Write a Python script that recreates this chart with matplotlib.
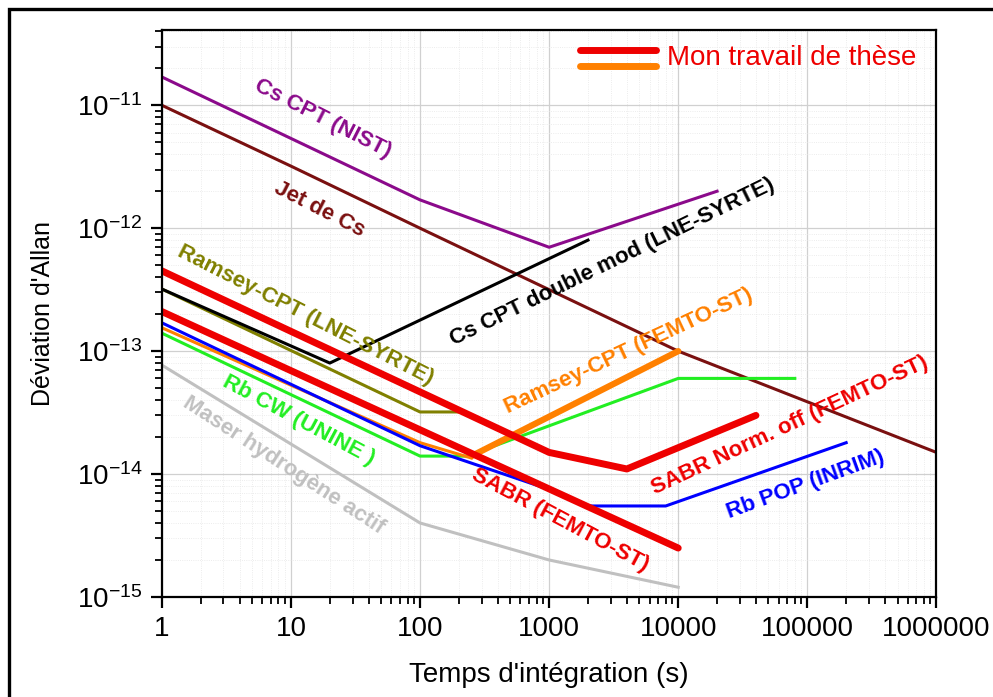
import matplotlib
matplotlib.use("Agg")
import matplotlib.pyplot as plt
from matplotlib.patches import Rectangle

plt.rcParams['font.family'] = ['Liberation Sans', 'DejaVu Sans']
plt.rcParams['mathtext.fontset'] = 'custom'
plt.rcParams['mathtext.rm'] = 'Liberation Sans'
plt.rcParams['mathtext.default'] = 'regular'

# courbes (temps d'intégration en s, déviation d'Allan)
cs_nist_x = [1, 100, 1000, 20000]
cs_nist_y = [1.7e-11, 1.7e-12, 7e-13, 2e-12]

jet_cs_x = [1, 10, 100, 10000, 1000000]
jet_cs_y = [1e-11, 3.2e-12, 1e-12, 1e-13, 1.5e-14]

ramsey_lne_x = [1, 100, 200]
ramsey_lne_y = [3.2e-13, 3.2e-14, 3.2e-14]

cs_double_x = [1, 20, 2000]
cs_double_y = [3.2e-13, 8e-14, 8e-13]

sabr_off_x = [1, 1000, 4000, 40000]
sabr_off_y = [4.5e-13, 1.5e-14, 1.1e-14, 3e-14]

sabr_x = [1, 10000]
sabr_y = [2.1e-13, 2.5e-15]

rb_pop_x = [1, 100, 1000, 2000, 8000, 200000]
rb_pop_y = [1.7e-13, 1.7e-14, 7.5e-15, 5.5e-15, 5.5e-15, 1.8e-14]

ramsey_femto_x = [1, 100, 250]
ramsey_femto_y = [1.55e-13, 1.8e-14, 1.35e-14]
ramsey_femto2_x = [250, 10000]
ramsey_femto2_y = [1.4e-14, 1e-13]

rb_cw_x = [1, 100, 230, 10000, 80000]
rb_cw_y = [1.4e-13, 1.4e-14, 1.4e-14, 6e-14, 6e-14]

maser_x = [1, 100, 1000, 10000]
maser_y = [7.7e-14, 4e-15, 2e-15, 1.2e-15]

xticks = [1, 10, 100, 1000, 10000, 100000, 1000000]
xticklabels = ["1", "10", "100", "1000", "10000", "100000", "1000000"]

fig = plt.figure(figsize=(9.93, 6.97), dpi=100)
ax = fig.add_axes([0.163, 0.1435, 0.78, 0.8135])
ax.set_xscale('log')
ax.set_yscale('log')

ax.plot(maser_x, maser_y, color='#c0c0c0', lw=2.2)
ax.plot(cs_nist_x, cs_nist_y, color='#8b0a8b', lw=2.2)
ax.plot(jet_cs_x, jet_cs_y, color='#7a1010', lw=2.2)
ax.plot(ramsey_lne_x, ramsey_lne_y, color='#808000', lw=2.2)
ax.plot(cs_double_x, cs_double_y, color='black', lw=2.2)
ax.plot(rb_cw_x, rb_cw_y, color='#22ee22', lw=2.2)
ax.plot(ramsey_femto_x, ramsey_femto_y, color='#ff8000', lw=2.2)
ax.plot(rb_pop_x, rb_pop_y, color='#0000ff', lw=2.2)
ax.plot(ramsey_femto2_x, ramsey_femto2_y, color='#ff8000', lw=4.5, solid_capstyle='round')
ax.plot(sabr_x, sabr_y, color='#ee0000', lw=5, solid_capstyle='round')
ax.plot(sabr_off_x, sabr_off_y, color='#ee0000', lw=5, solid_capstyle='round')

ax.set_xlim(1, 1e6)
ax.set_ylim(1e-15, 4.1e-11)
ax.set_xticks(xticks)
ax.set_xticklabels(xticklabels, fontsize=20)
ax.set_yticks([1e-15, 1e-14, 1e-13, 1e-12, 1e-11])

ax.grid(True, which='major', color='#d0d0d0', lw=0.9)
ax.grid(True, which='minor', color='#e6e6e6', lw=0.6, ls=':')
ax.set_axisbelow(True)
for s in ax.spines.values():
    s.set_linewidth(1.6)
ax.tick_params(which='major', direction='out', length=8, width=1.6, pad=6)
ax.tick_params(axis='y', which='major', labelsize=20)
ax.tick_params(which='minor', direction='out', length=5, width=1.3)

ax.set_xlabel("Temps d'intégration (s)", fontsize=20, labelpad=14)
ax.set_ylabel("Déviation d'Allan", fontsize=18, labelpad=16)

# étiquettes des courbes
lab = dict(fontsize=16, fontweight='bold', ha='center', va='center')
ax.text(0.208, 0.843, "Cs CPT (NIST)", color='#8b0a8b', rotation=-27, transform=ax.transAxes, **lab)
ax.text(0.204, 0.684, "Jet de Cs", color='#7a1010', rotation=-27, transform=ax.transAxes, **lab)
ax.text(0.186, 0.497, "Ramsey-CPT (LNE-SYRTE)", color='#808000', rotation=-27, transform=ax.transAxes, **lab)
ax.text(0.581, 0.591, "Cs CPT double mod (LNE-SYRTE)", color='black', rotation=26, transform=ax.transAxes, **lab)
ax.text(0.602, 0.434, "Ramsey-CPT (FEMTO-ST)", color='#ff8000', rotation=25, transform=ax.transAxes, **lab)
ax.text(0.177, 0.312, "Rb CW (UNINE )", color='#22ee22', rotation=-28, transform=ax.transAxes, **lab)
ax.text(0.157, 0.232, "Maser hydrogène actif", color='#c0c0c0', rotation=-33, transform=ax.transAxes, **lab)
ax.text(0.514, 0.136, "SABR (FEMTO-ST)", color='#ee0000', rotation=-28, transform=ax.transAxes, **lab)
ax.text(0.811, 0.303, "SABR Norm. off (FEMTO-ST)", color='#ee0000', rotation=25, transform=ax.transAxes, **lab)
ax.text(0.831, 0.198, "Rb POP (INRIM)", color='#0000ff', rotation=20, transform=ax.transAxes, **lab)

# légende
ax.plot([0.540, 0.638], [0.965, 0.965], color='#ee0000', lw=5, solid_capstyle='round', transform=ax.transAxes)
ax.plot([0.540, 0.638], [0.937, 0.937], color='#ff8000', lw=5, solid_capstyle='round', transform=ax.transAxes)
ax.text(0.652, 0.951, "Mon travail de thèse", color='#ee0000', fontsize=20, ha='left', va='center', transform=ax.transAxes)

fig.patches.append(Rectangle((0.009, -0.2), 1.2, 1.187, transform=fig.transFigure,
                             fill=False, edgecolor='black', lw=2.4))

fig.savefig("out.png", dpi=100)
